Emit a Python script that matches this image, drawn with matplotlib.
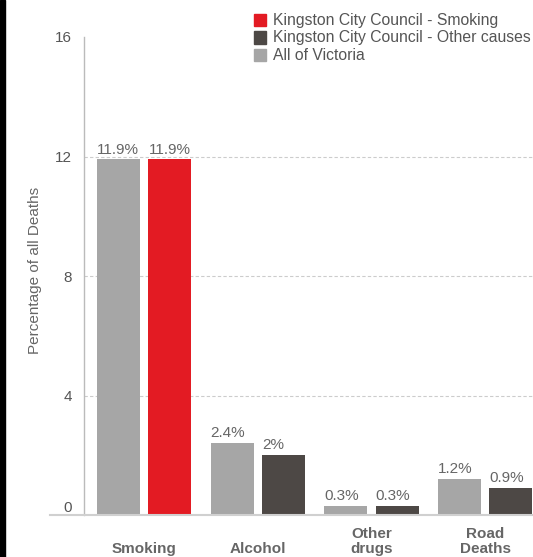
import matplotlib
matplotlib.use("Agg")
import matplotlib.pyplot as plt
import numpy as np
from matplotlib.patches import Rectangle

plt.rcParams['font.family'] = ['Liberation Sans', 'DejaVu Sans']

categories = ["Smoking", "Alcohol", "Other\ndrugs", "Road\nDeaths"]
victoria = [11.9, 2.4, 0.3, 1.2]
kingston = [11.9, 2.0, 0.3, 0.9]
victoria_labels = ["11.9%", "2.4%", "0.3%", "1.2%"]
kingston_labels = ["11.9%", "2%", "0.3%", "0.9%"]
yticks = [0, 4, 8, 12, 16]

gray = "#a6a6a6"
red = "#e31b23"
dark = "#4d4845"
txt = "#666666"

fig = plt.figure(figsize=(5.33, 5.57), dpi=100)
ax = fig.add_axes([84/533, 1-515/557, 1-84/533, (515-37)/557])

x = np.arange(len(categories))
w = 0.379
off = 0.226
k_colors = [red, dark, dark, dark]

ax.bar(x - off, victoria, w, color=gray, zorder=3)
ax.bar(x + off, kingston, w, color=k_colors, zorder=3)

# value labels sit left-aligned on each bar
for i in range(len(categories)):
    ax.text(x[i] - off - w/2, victoria[i] + 0.1, victoria_labels[i], ha='left', va='bottom',
            fontsize=11, color=txt)
    ax.text(x[i] + off - w/2, kingston[i] + 0.1, kingston_labels[i], ha='left', va='bottom',
            fontsize=11, color=txt)

ax.set_xlim(-0.53, 3.42)
ax.set_ylim(0, 16)
ax.set_yticks(yticks)
ax.set_yticklabels([str(t) for t in yticks], fontsize=11, color="#555555")
ax.tick_params(axis='y', length=0, pad=8.5)
ax.get_yticklabels()[0].set_va('bottom')
ax.set_xticks([])

for t in [4, 8, 12]:
    ax.axhline(t, color="#cccccc", lw=0.8, ls=(0, (3, 2)), zorder=1)

for s in ['top', 'right', 'bottom']:
    ax.spines[s].set_visible(False)
ax.spines['left'].set_color("#bbbbbb")
ax.spines['left'].set_linewidth(1)

# baseline extending left past the axis
fig.add_artist(plt.Line2D([50/533, 1], [1-515/557, 1-515/557], color="#d0d0d0", lw=1.5))

for i, c in enumerate(categories):
    ax.annotate(c, xy=(x[i], 0), xycoords=('data', 'figure fraction'),
                xytext=(0, 1), textcoords='offset points',
                ha='center', va='bottom', fontsize=11, fontweight='bold', color=txt,
                linespacing=1.1)

fig.text(35/533, 1-270/557, "Percentage of all Deaths", rotation=90, ha='center', va='center',
         fontsize=11, color=txt)

# legend
leg_items = [("Kingston City Council - Smoking", red),
             ("Kingston City Council - Other causes", dark),
             ("All of Victoria", gray)]
for j, (lab, col) in enumerate(leg_items):
    yc = 20 + j * 17.5
    fig.add_artist(Rectangle((254/533, 1-(yc+6)/557), 12/533, 12/557, color=col,
                             transform=fig.transFigure))
    fig.text(273/533, 1-yc/557, lab, ha='left', va='center', fontsize=11.3, color="#555555")

# black strip on left edge
fig.add_artist(Rectangle((0, 0), 5/533, 1, color="black", transform=fig.transFigure))

fig.savefig("out.png", dpi=100)
